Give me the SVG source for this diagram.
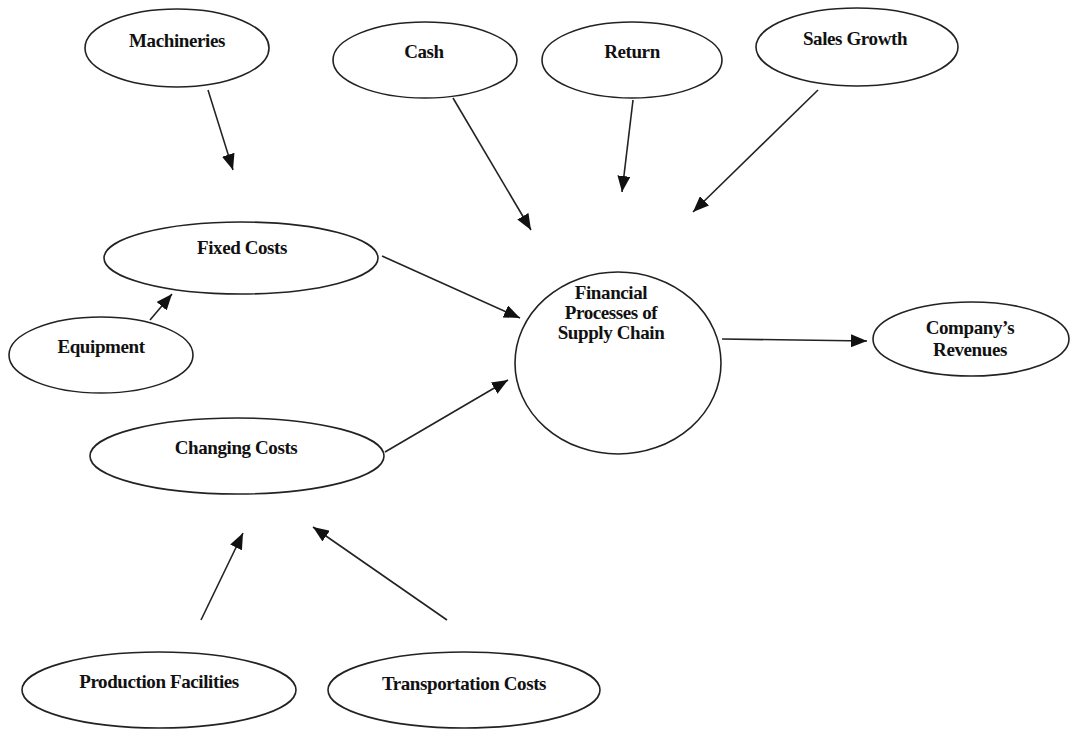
<svg xmlns="http://www.w3.org/2000/svg" width="1071" height="731" viewBox="0 0 1071 731">
<style>
.n{fill:#fff;stroke:#222;stroke-width:1.6}
.t{font-family:"Liberation Serif","Times New Roman",serif;font-weight:bold;font-size:19px;fill:#111;text-anchor:middle;letter-spacing:-0.4px}
.c{stroke:#222;stroke-width:1.6;fill:none;marker-end:url(#ah)}
</style>
<defs>
<marker id="ah" markerUnits="userSpaceOnUse" markerWidth="17" markerHeight="13" refX="16" refY="6.5" orient="auto">
<path d="M0,0 L16,6.5 L0,13 Z" fill="#111"/>
</marker>
</defs>
<rect width="1071" height="731" fill="#fff"/>
<g id="connectors">
<line class="c" x1="208" y1="90" x2="233" y2="170"/>
<line class="c" x1="453" y1="98" x2="531" y2="230"/>
<line class="c" x1="633" y1="100" x2="622" y2="192"/>
<line class="c" x1="818" y1="90" x2="693" y2="212"/>
<line class="c" x1="382" y1="256" x2="520" y2="318"/>
<line class="c" x1="150" y1="320" x2="172" y2="294"/>
<line class="c" x1="385" y1="452" x2="508" y2="380"/>
<line class="c" x1="722" y1="339" x2="867" y2="341"/>
<line class="c" x1="201" y1="620" x2="243" y2="533"/>
<line class="c" x1="447" y1="620" x2="313" y2="527"/>
</g>
<g id="machineries"><ellipse class="n" cx="177" cy="48" rx="92" ry="39"/><text class="t" x="177" y="47">Machineries</text></g>
<g id="cash"><ellipse class="n" cx="425" cy="60" rx="92" ry="38"/><text class="t" x="424" y="58">Cash</text></g>
<g id="return"><ellipse class="n" cx="632" cy="60" rx="90" ry="38"/><text class="t" x="632" y="58">Return</text></g>
<g id="sales-growth"><ellipse class="n" cx="857" cy="47" rx="101" ry="39"/><text class="t" x="855" y="45">Sales Growth</text></g>
<g id="fixed-costs"><ellipse class="n" cx="241" cy="258" rx="137" ry="36"/><text class="t" x="242" y="254">Fixed Costs</text></g>
<g id="equipment"><ellipse class="n" cx="101" cy="355" rx="92" ry="38"/><text class="t" x="101" y="353">Equipment</text></g>
<g id="financial"><ellipse class="n" cx="618" cy="363" rx="103" ry="91"/><text class="t" x="611" y="299">Financial</text><text class="t" x="611" y="319">Processes of</text><text class="t" x="611" y="339">Supply Chain</text></g>
<g id="company-revenues"><ellipse class="n" cx="971" cy="339" rx="98" ry="37"/><text class="t" x="970" y="334">Company’s</text><text class="t" x="970" y="356">Revenues</text></g>
<g id="changing-costs"><ellipse class="n" cx="237" cy="456" rx="147" ry="38"/><text class="t" x="236" y="454">Changing Costs</text></g>
<g id="production-facilities"><ellipse class="n" cx="159" cy="690" rx="137" ry="38"/><text class="t" x="159" y="688">Production Facilities</text></g>
<g id="transportation-costs"><ellipse class="n" cx="464" cy="690" rx="136" ry="38"/><text class="t" x="464" y="690">Transportation Costs</text></g>
</svg>
